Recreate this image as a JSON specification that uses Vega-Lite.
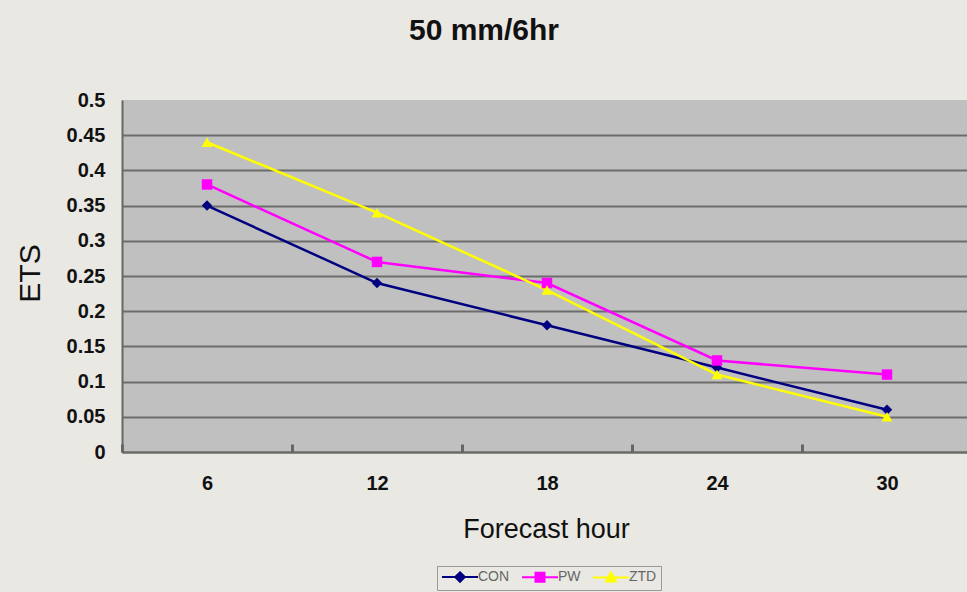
{
  "$schema": "https://vega.github.io/schema/vega-lite/v6.json",
  "width": 850,
  "height": 352,
  "autosize": {"type": "none"},
  "padding": {"left": 122, "top": 100, "right": 0, "bottom": 140},
  "background": "#e9e8e3",
  "view": {"fill": "#c0c0c0", "stroke": null},
  "title": {
    "text": "50 mm/6hr",
    "anchor": "middle",
    "frame": "group",
    "dx": -63,
    "offset": 20,
    "baseline": "alphabetic",
    "font": "Liberation Sans",
    "fontSize": 30,
    "fontWeight": "bold",
    "color": "#111111"
  },
  "config": {
    "font": "Liberation Sans"
  },
  "data": {
    "values": [
      {"hour": 6, "series": "CON", "ets": 0.35},
      {"hour": 12, "series": "CON", "ets": 0.24},
      {"hour": 18, "series": "CON", "ets": 0.18},
      {"hour": 24, "series": "CON", "ets": 0.12},
      {"hour": 30, "series": "CON", "ets": 0.06},
      {"hour": 6, "series": "PW", "ets": 0.38},
      {"hour": 12, "series": "PW", "ets": 0.27},
      {"hour": 18, "series": "PW", "ets": 0.24},
      {"hour": 24, "series": "PW", "ets": 0.13},
      {"hour": 30, "series": "PW", "ets": 0.11},
      {"hour": 6, "series": "ZTD", "ets": 0.44},
      {"hour": 12, "series": "ZTD", "ets": 0.34},
      {"hour": 18, "series": "ZTD", "ets": 0.23},
      {"hour": 24, "series": "ZTD", "ets": 0.11},
      {"hour": 30, "series": "ZTD", "ets": 0.05}
    ]
  },
  "encoding": {
    "y": {
      "field": "ets",
      "type": "quantitative",
      "scale": {"domain": [0, 0.5], "nice": false, "zero": true},
      "axis": {
        "title": "ETS",
        "values": [0, 0.05, 0.1, 0.15, 0.2, 0.25, 0.3, 0.35, 0.4, 0.45, 0.5],
        "format": "~g",
        "grid": true,
        "gridColor": {"condition": {"test": "datum.value >= 0.5", "value": "transparent"}, "value": "#6c6c6c"},
        "gridWidth": 2,
        "gridOpacity": 1,
        "ticks": false,
        "domain": true,
        "domainColor": "#666666",
        "domainWidth": 2,
        "labelFont": "Liberation Sans",
        "labelFontSize": 20,
        "labelFontWeight": "bold",
        "labelColor": "#111111",
        "labelPadding": 17,
        "labelFlush": false,
        "labelOverlap": false,
        "titleFont": "Liberation Sans",
        "titleFontSize": 30,
        "titleFontWeight": "normal",
        "titleColor": "#111111",
        "titleAngle": -90,
        "titleBaseline": "alphabetic",
        "titleX": -83,
        "titleY": 173,
        "titleAlign": "center"
      }
    },
    "color": {
      "field": "series",
      "type": "nominal",
      "scale": {"domain": ["CON", "PW", "ZTD"], "range": ["#000080", "#ff00ff", "#ffff00"]},
      "legend": {
        "title": null,
        "orient": "none",
        "legendX": 315,
        "legendY": 466,
        "direction": "horizontal",
        "symbolSize": 144,
        "symbolOffset": 12,
        "symbolStrokeWidth": 2,
        "labelFont": "Liberation Sans",
        "labelFontSize": 14,
        "labelColor": "#666666",
        "labelOffset": 11,
        "columnPadding": 8,
        "padding": 4,
        "strokeColor": "#999999",
        "fillColor": "#e9e8e3",
        "encode": {
          "symbols": {
            "update": {
              "shape": {"signal": "datum.value === 'CON' ? 'M-3,0H3M0,-0.8L0.8,0L0,0.8L-0.8,0Z' : datum.value === 'PW' ? 'M-3,0H3M-0.75,-0.75H0.75V0.75H-0.75Z' : 'M-3,0H3M0,-0.85L0.85,0.7H-0.85Z'"},
              "fill": {"signal": "datum.value === 'CON' ? '#000080' : datum.value === 'PW' ? '#ff00ff' : '#ffff00'"},
              "stroke": {"signal": "datum.value === 'CON' ? '#000080' : datum.value === 'PW' ? '#ff00ff' : '#ffff00'"},
              "strokeWidth": {"value": 2},
              "opacity": {"value": 1}
            }
          }
        }
      }
    }
  },
  "layer": [
    {
      "mark": {"type": "line", "strokeWidth": 2.5},
      "encoding": {
        "x": {
          "field": "hour",
          "type": "quantitative",
          "scale": {"domain": [3, 33], "nice": false, "zero": false},
          "axis": {
            "orient": "bottom",
            "title": "Forecast hour",
            "values": [6, 12, 18, 24, 30],
            "grid": false,
            "ticks": false,
            "domain": true,
            "domainColor": "#6a6a6a",
            "domainWidth": 2,
            "labelFont": "Liberation Sans",
            "labelFontSize": 20,
            "labelFontWeight": "bold",
            "labelColor": "#111111",
            "labelPadding": 21,
            "labelFlush": false,
            "titleFont": "Liberation Sans",
            "titleFontSize": 27,
            "titleFontWeight": "normal",
            "titleColor": "#111111",
            "titleBaseline": "alphabetic",
            "titleY": 85,
            "titleX": 424
          }
        }
      }
    },
    {
      "transform": [{"filter": "datum.series === 'CON'"}],
      "mark": {"type": "point", "filled": true, "size": 110, "opacity": 1, "shape": "diamond"},
      "encoding": {
        "x": {
          "field": "hour",
          "type": "quantitative",
          "scale": {"domain": [3, 33], "nice": false, "zero": false},
          "axis": {
            "orient": "bottom",
            "title": null,
            "values": [3, 9, 15, 21, 27, 33],
            "grid": false,
            "labels": false,
            "domain": false,
            "ticks": true,
            "tickSize": 8,
            "tickWidth": 3,
            "tickColor": "#666666",
            "offset": -8
          }
        }
      }
    },
    {
      "transform": [{"filter": "datum.series === 'PW'"}],
      "mark": {"type": "point", "filled": true, "size": 110, "opacity": 1, "shape": "square"},
      "encoding": {
        "x": {
          "field": "hour",
          "type": "quantitative",
          "scale": {"domain": [3, 33], "nice": false, "zero": false},
          "axis": null
        }
      }
    },
    {
      "transform": [{"filter": "datum.series === 'ZTD'"}],
      "mark": {"type": "point", "filled": true, "size": 120, "opacity": 1, "shape": "triangle-up"},
      "encoding": {
        "x": {
          "field": "hour",
          "type": "quantitative",
          "scale": {"domain": [3, 33], "nice": false, "zero": false},
          "axis": null
        }
      }
    }
  ],
  "resolve": {"axis": {"x": "independent"}}
}
